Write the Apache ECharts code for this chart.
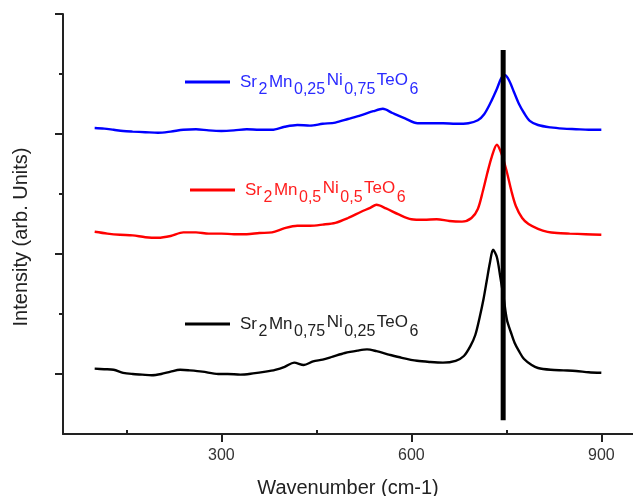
<!DOCTYPE html>
<html>
<head>
<meta charset="utf-8">
<script src="https://cdn.jsdelivr.net/npm/echarts@6/dist/echarts.min.js"></script>
<style>html,body{margin:0;padding:0;background:#fff}#c{width:633px;height:496px}</style>
</head>
<body>
<div id="c"></div>
<script>
// ---- data ----
const seriesNames = ['Sr2Mn0,25Ni0,75TeO6', 'Sr2Mn0,5Ni0,5TeO6', 'Sr2Mn0,75Ni0,25TeO6'];

const blueX = [100,115,130,145,160,180,200,220,240,260,280,300,320,340,360,380,400,420,440,460,480,500,520,540,555,570,590,610,630,650,670,690,705,715,725,735,742,748,755,762,770,778,787,800,820,840,860,880,900];
const blueY = [5.10,5.09,5.07,5.05,5.04,5.03,5.02,5.04,5.07,5.08,5.06,5.05,5.06,5.08,5.07,5.07,5.12,5.15,5.14,5.17,5.19,5.25,5.31,5.38,5.42,5.35,5.26,5.18,5.18,5.18,5.17,5.18,5.23,5.33,5.52,5.75,5.93,5.98,5.88,5.70,5.50,5.35,5.22,5.15,5.11,5.09,5.08,5.07,5.07];

const redX = [100,120,140,160,180,200,220,240,260,280,300,320,340,360,380,400,420,440,460,480,500,520,535,545,560,580,600,620,640,660,680,695,705,713,720,727,735,742,750,758,765,775,785,800,815,830,850,875,900];
const redY = [3.37,3.34,3.32,3.31,3.28,3.27,3.30,3.36,3.36,3.34,3.34,3.33,3.33,3.35,3.36,3.43,3.47,3.47,3.49,3.52,3.60,3.70,3.77,3.82,3.76,3.66,3.58,3.57,3.58,3.55,3.54,3.60,3.75,4.05,4.35,4.62,4.82,4.68,4.40,4.05,3.80,3.60,3.50,3.42,3.37,3.35,3.34,3.33,3.32];

const blackX = [100,115,130,145,160,175,190,205,220,235,250,270,295,310,330,350,370,385,400,415,430,445,460,476,495,515,530,545,566,585,609,630,650,670,683,693,701,708,714,719,724,729,735,740,746,751,757,763,770,778,790,800,820,840,860,880,900];
const blackY = [1.09,1.08,1.07,1.02,1.00,0.99,0.98,1.00,1.04,1.07,1.06,1.04,1.00,1.00,0.99,1.01,1.04,1.07,1.12,1.19,1.15,1.21,1.24,1.29,1.35,1.39,1.41,1.38,1.32,1.27,1.22,1.20,1.19,1.22,1.30,1.46,1.65,1.95,2.25,2.55,2.85,3.07,2.95,2.65,2.25,1.90,1.70,1.52,1.38,1.25,1.15,1.10,1.07,1.06,1.05,1.03,1.02];

const markerX = [745, 745];
const markerY = [0.23, 6.4];

const xMajorTicks = [300, 600, 900];
const xMinorTicks = [150, 450, 750];
const yMajorTicks = [1, 3, 5, 7];
const yMinorTicks = [2, 4, 6];

// ---- chart ----
function pairs(xs, ys) { return xs.map((x, i) => [x, ys[i]]); }

function richFormula(name) {
  const parts = name.match(/[A-Za-z]+|[0-9,]+/g);
  let out = '';
  parts.forEach((p) => {
    if (/^[0-9,]+$/.test(p)) out += '{d|' + p + '}';
    else if (p === 'Sr' || p === 'Mn') out += '{a|' + p + '}';
    else out += '{b|' + p + '}';
  });
  return out;
}
function richFor(color) {
  const base = { color: color, fontSize: 17, fontFamily: 'Liberation Sans, Arial, sans-serif' };
  return {
    a: Object.assign({}, base, { lineHeight: 17, padding: [8, 1.5, 8, 0] }),
    b: Object.assign({}, base, { lineHeight: 13, padding: [8, 1.5, 12, 0] }),
    d: Object.assign({}, base, { fontSize: 16, lineHeight: 17, padding: [16, 1.5, 0, 0] })
  };
}
const colors = ['#0000ff', '#ff0000', '#000000'];
const textColors = ['#2b2bff', '#ff1f1f', '#222222'];
const legendPos = [[185, 63.5], [190, 171.5], [185, 305.5]];

const chart = echarts.init(document.getElementById('c'), null, { renderer: 'canvas' });
const font = 'Liberation Sans, Arial, sans-serif';

const xCommon = { type: 'value', min: 50, max: 950, splitLine: { show: false } };
const yCommon = { type: 'value', min: 0, max: 7, splitLine: { show: false } };

chart.setOption({
  animation: false,
  backgroundColor: '#ffffff',
  grid: { left: 63, right: 0, top: 14, bottom: 62, containLabel: false, outerBoundsMode: 'none' },
  legend: seriesNames.map((n, i) => ({
    data: [n],
    left: legendPos[i][0],
    top: legendPos[i][1],
    padding: 0,
    icon: 'rect',
    itemWidth: 45,
    itemHeight: 3,
    formatter: richFormula,
    textStyle: { rich: richFor(textColors[i]), padding: [0, 0, 0, 5] },
    selectedMode: false
  })),
  xAxis: [
    Object.assign({}, xCommon, {
      name: 'Wavenumber (cm-1)', nameLocation: 'middle', nameGap: 44,
      nameTextStyle: { fontSize: 20, color: '#222', fontFamily: font },
      axisLine: { show: true, lineStyle: { color: '#222', width: 2 } },
      axisTick: { show: true, customValues: xMajorTicks, length: 8, lineStyle: { color: '#222', width: 2 } },
      axisLabel: { customValues: xMajorTicks, fontSize: 16, color: '#333', margin: 14, fontFamily: font }
    }),
    Object.assign({}, xCommon, {
      axisLine: { show: false },
      axisTick: { show: true, customValues: xMinorTicks, length: 4, lineStyle: { color: '#222', width: 2 } },
      axisLabel: { show: false }
    })
  ],
  yAxis: [
    Object.assign({}, yCommon, {
      name: 'Intensity (arb. Units)', nameLocation: 'middle', nameGap: 32,
      nameTextStyle: { fontSize: 20, color: '#222', fontFamily: font, padding: [0, 26, 0, 0] },
      axisLine: { show: true, lineStyle: { color: '#222', width: 2 } },
      axisTick: { show: true, customValues: yMajorTicks, length: 8, lineStyle: { color: '#222', width: 2 } },
      axisLabel: { show: false }
    }),
    Object.assign({}, yCommon, {
      position: 'left',
      axisLine: { show: false },
      axisTick: { show: true, customValues: yMinorTicks, length: 4, lineStyle: { color: '#222', width: 2 } },
      axisLabel: { show: false }
    })
  ],
  series: [
    { name: seriesNames[0], type: 'line', data: pairs(blueX, blueY), symbol: 'none', smooth: 0.3, lineStyle: { color: colors[0], width: 2.4 }, itemStyle: { color: colors[0] } },
    { name: seriesNames[1], type: 'line', data: pairs(redX, redY), symbol: 'none', smooth: 0.3, lineStyle: { color: colors[1], width: 2.4 }, itemStyle: { color: colors[1] } },
    { name: seriesNames[2], type: 'line', data: pairs(blackX, blackY), symbol: 'none', smooth: 0.3, lineStyle: { color: colors[2], width: 2.4 }, itemStyle: { color: colors[2] } },
    { name: 'marker', type: 'line', data: pairs(markerX, markerY), symbol: 'none', lineStyle: { color: '#000', width: 5 }, z: 5 }
  ]
});
</script>
</body>
</html>
